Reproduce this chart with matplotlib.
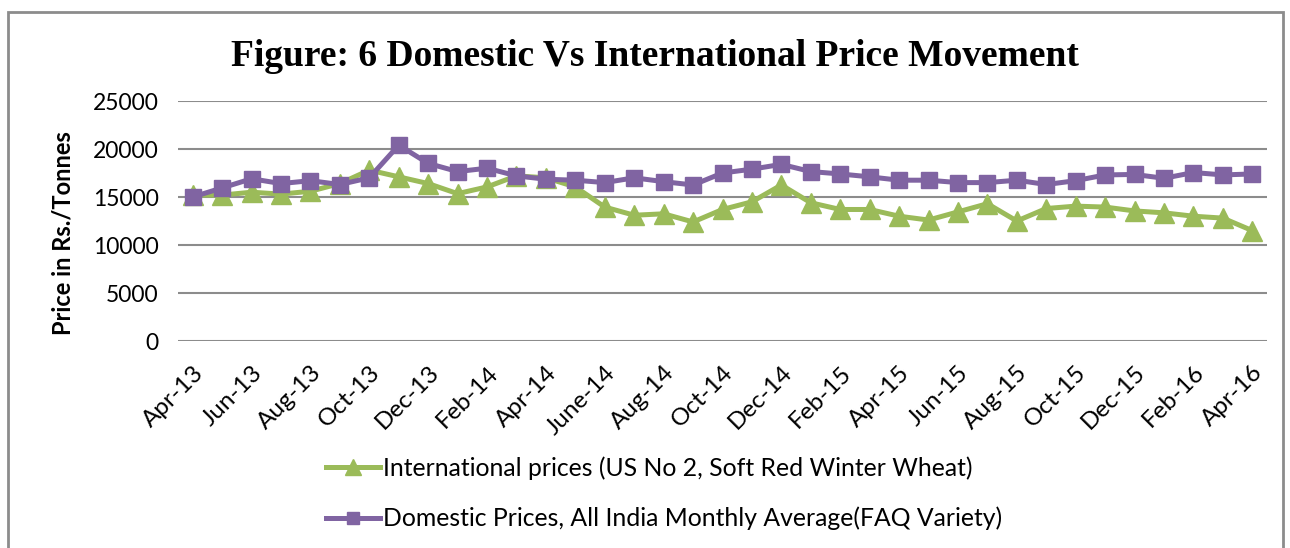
import matplotlib
matplotlib.use("Agg")
import matplotlib.pyplot as plt
from matplotlib.patches import Rectangle

months = ["Apr-13", "May-13", "Jun-13", "Jul-13", "Aug-13", "Sep-13", "Oct-13", "Nov-13",
          "Dec-13", "Jan-14", "Feb-14", "Mar-14", "Apr-14", "May-14", "June-14", "Jul-14",
          "Aug-14", "Sep-14", "Oct-14", "Nov-14", "Dec-14", "Jan-15", "Feb-15", "Mar-15",
          "Apr-15", "May-15", "Jun-15", "Jul-15", "Aug-15", "Sep-15", "Oct-15", "Nov-15",
          "Dec-15", "Jan-16", "Feb-16", "Mar-16", "Apr-16"]

international = [15200, 15200, 15500, 15300, 15600, 16400, 17800, 17100, 16400, 15350,
                 16050, 17200, 17000, 16050, 13950, 13100, 13250, 12400, 13700, 14500,
                 16250, 14400, 13700, 13700, 13000, 12600, 13450, 14300, 12500, 13800,
                 14050, 13950, 13550, 13350, 13000, 12800, 11500]

domestic = [15000, 15950, 16900, 16400, 16700, 16300, 17000, 20400, 18500, 17650,
            18000, 17200, 16850, 16750, 16500, 17000, 16600, 16250, 17500, 17900,
            18400, 17650, 17400, 17100, 16750, 16750, 16500, 16500, 16750, 16300,
            16700, 17300, 17350, 16950, 17550, 17300, 17400]

yticks = [0, 5000, 10000, 15000, 20000, 25000]

title = "Figure: 6 Domestic Vs International Price Movement"
ylabel = "Price in Rs./Tonnes"
label_int = "International prices (US No 2, Soft Red Winter Wheat)"
label_dom = "Domestic Prices, All India Monthly Average(FAQ Variety)"

green = "#9BBB59"
purple = "#8064A2"

fig = plt.figure(figsize=(12.9, 5.48), dpi=100)
ax = fig.add_axes([178 / 1290, 1 - 341 / 548, (1267 - 178) / 1290, (341 - 101) / 548])

x = list(range(len(months)))
ax.plot(x, international, color=green, lw=3.6, marker="^", markersize=14,
        label=label_int, zorder=3)
ax.plot(x, domestic, color=purple, lw=3.6, marker="s", markersize=11,
        label=label_dom, zorder=4)

ax.set_xlim(-0.5, len(months) - 0.5)
ax.set_ylim(0, 25000)
ax.set_yticks(yticks)
ax.set_yticklabels([str(v) for v in yticks], fontsize=16.5, family="Lato")
ax.yaxis.grid(True, color="#8c8c8c", lw=1.5)
ax.set_axisbelow(True)
ax.tick_params(axis="y", length=0, pad=14)
ax.tick_params(axis="x", length=0, pad=15)

ax.set_xticks(x[::2])
ax.set_xticklabels(months[::2], rotation=45, ha="right", rotation_mode="anchor",
                   fontsize=17.5, family="Lato")

for s in ["top", "right", "left", "bottom"]:
    ax.spines[s].set_visible(False)

ax.set_ylabel(ylabel, fontsize=17, fontweight="bold", family="Lato", labelpad=12)
ax.yaxis.set_label_coords(-0.095, 0.45)

fig.text(655 / 1290, 1 - 57 / 548, title, ha="center", va="center",
         fontsize=27, fontweight="bold", family="Liberation Serif")

fig.legend(loc="upper left", bbox_to_anchor=(326 / 1290, 1 - 456 / 548),
           frameon=False, prop={"family": "Lato", "size": 17.8},
           handlelength=2.2, handletextpad=0.1, labelspacing=1.1, markerscale=0.8,
           borderaxespad=0, borderpad=0)

fig.patches.append(Rectangle((8 / 1290, -0.1), (1283 - 8) / 1290, 1.1 - 12 / 548,
                             transform=fig.transFigure, fill=False,
                             edgecolor="#8c8c8c", lw=2))

fig.savefig("out.png", dpi=100)
